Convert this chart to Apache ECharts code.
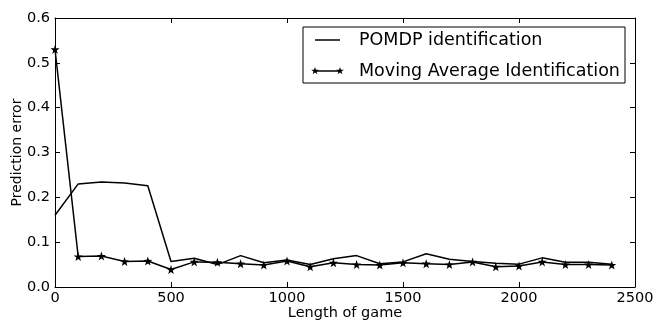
<!DOCTYPE html>
<html>
<head>
<meta charset="utf-8">
<script src="https://cdn.jsdelivr.net/npm/echarts@6/dist/echarts.min.js"></script>
<style>
  html, body { margin: 0; padding: 0; background: #fff; }
  #chart { width: 653px; height: 322px; }
</style>
</head>
<body>
<div id="chart"></div>
<script>
// Game lengths sampled every 100 steps
const gameLengths = [0, 100, 200, 300, 400, 500, 600, 700, 800, 900, 1000, 1100, 1200,
  1300, 1400, 1500, 1600, 1700, 1800, 1900, 2000, 2100, 2200, 2300, 2400];

// Prediction error of the POMDP-based identification
const pomdpError = [0.160, 0.230, 0.234, 0.232, 0.226, 0.057, 0.064, 0.050, 0.070, 0.054,
  0.060, 0.050, 0.063, 0.070, 0.052, 0.056, 0.074, 0.062, 0.057, 0.053,
  0.051, 0.065, 0.055, 0.055, 0.051];

// Prediction error of the moving-average identification
const movingAvgError = [0.530, 0.068, 0.069, 0.057, 0.058, 0.039, 0.056, 0.055, 0.052, 0.049,
  0.058, 0.045, 0.054, 0.050, 0.049, 0.054, 0.052, 0.050, 0.056, 0.045,
  0.047, 0.056, 0.050, 0.050, 0.049];

const xTicks = [0, 500, 1000, 1500, 2000, 2500];
const yTicks = [0.0, 0.1, 0.2, 0.3, 0.4, 0.5, 0.6];

const seriesNames = ['POMDP identification', 'Moving Average Identification'];

const STAR = 'path://M0,-10 L2.35,-3.24 9.51,-3.09 3.8,1.24 5.88,8.09 0,4 -5.88,8.09 -3.8,1.24 -9.51,-3.09 -2.35,-3.24 Z';
const FONT = 'DejaVu Sans';

const pair = (ys) => gameLengths.map((x, i) => [x, ys[i]]);

// Five-pointed star outline centred on (cx, cy) for the legend sample
function starPoints(cx, cy, r) {
  const pts = [];
  for (let k = 0; k < 10; k++) {
    const rad = k % 2 === 0 ? r : r * 0.4;
    const a = -Math.PI / 2 + k * Math.PI / 5;
    pts.push([cx + rad * Math.cos(a), cy + rad * Math.sin(a)]);
  }
  return pts;
}

const axisLineStyle = { show: true, onZero: false, lineStyle: { color: '#000', width: 1 } };
const tickStyle = { show: true, inside: true, length: 5, lineStyle: { color: '#000', width: 1 } };

const chart = echarts.init(document.getElementById('chart'), null, { renderer: 'canvas' });

const LX = 303, LY = 27;
const LEGEND_FONT = '17.5px "DejaVu Sans"';

chart.setOption({
  animation: false,
  backgroundColor: '#fff',
  textStyle: { fontFamily: FONT },
  grid: { left: 55, right: 18, top: 18, bottom: 35, containLabel: false, outerBoundsMode: 'none' },
  xAxis: [
    {
      type: 'value', min: xTicks[0], max: xTicks[xTicks.length - 1], interval: 500,
      position: 'bottom',
      name: 'Length of game', nameLocation: 'middle', nameGap: 19, nameMoveOverlap: false,
      nameTextStyle: { fontFamily: FONT, fontSize: 14.5, color: '#000' },
      axisLine: axisLineStyle, axisTick: tickStyle,
      axisLabel: { fontFamily: FONT, fontSize: 14.5, color: '#000', margin: 4,
        formatter: (v) => String(v) },
      splitLine: { show: false }
    },
    {
      type: 'value', min: xTicks[0], max: xTicks[xTicks.length - 1], interval: 500,
      position: 'top',
      axisLine: axisLineStyle, axisTick: tickStyle,
      axisLabel: { show: false }, splitLine: { show: false }
    }
  ],
  yAxis: [
    {
      type: 'value', min: yTicks[0], max: yTicks[yTicks.length - 1], interval: 0.1,
      position: 'left',
      name: 'Prediction error', nameLocation: 'middle', nameGap: 31, nameRotate: 90,
      nameMoveOverlap: false,
      nameTextStyle: { fontFamily: FONT, fontSize: 14, color: '#000' },
      axisLine: axisLineStyle, axisTick: tickStyle,
      axisLabel: { fontFamily: FONT, fontSize: 14.5, color: '#000', margin: 5,
        formatter: (v) => v.toFixed(1) },
      splitLine: { show: false }
    },
    {
      type: 'value', min: yTicks[0], max: yTicks[yTicks.length - 1], interval: 0.1,
      position: 'right',
      axisLine: axisLineStyle, axisTick: tickStyle,
      axisLabel: { show: false }, splitLine: { show: false }
    }
  ],
  series: [
    {
      name: seriesNames[0], type: 'line', data: pair(pomdpError),
      symbol: 'none', lineStyle: { color: '#000', width: 1.5 },
      itemStyle: { color: '#000' }, z: 2
    },
    {
      name: seriesNames[1], type: 'line', data: pair(movingAvgError),
      symbol: STAR, symbolSize: 9, showSymbol: true,
      lineStyle: { color: '#000', width: 1.5 },
      itemStyle: { color: '#000' }, z: 3
    }
  ],
  graphic: [
    { type: 'rect', z: 100, shape: { x: LX, y: LY, width: 322, height: 56 },
      style: { fill: '#fff', stroke: '#000', lineWidth: 1 } },
    { type: 'line', z: 101, shape: { x1: LX + 12, y1: LY + 13, x2: LX + 37, y2: LY + 13 },
      style: { stroke: '#000', lineWidth: 1.5 } },
    { type: 'text', z: 101, x: LX + 56, y: LY + 13,
      style: { text: seriesNames[0], font: LEGEND_FONT, fill: '#000',
        verticalAlign: 'middle' } },
    { type: 'line', z: 101, shape: { x1: LX + 12, y1: LY + 44, x2: LX + 37, y2: LY + 44 },
      style: { stroke: '#000', lineWidth: 1.5 } },
    { type: 'polygon', z: 102, shape: { points: starPoints(LX + 12, LY + 44, 4) },
      style: { fill: '#000' } },
    { type: 'polygon', z: 102, shape: { points: starPoints(LX + 37, LY + 44, 4) },
      style: { fill: '#000' } },
    { type: 'text', z: 101, x: LX + 56, y: LY + 44,
      style: { text: seriesNames[1], font: LEGEND_FONT, fill: '#000',
        verticalAlign: 'middle' } }
  ]
});
</script>
</body>
</html>
